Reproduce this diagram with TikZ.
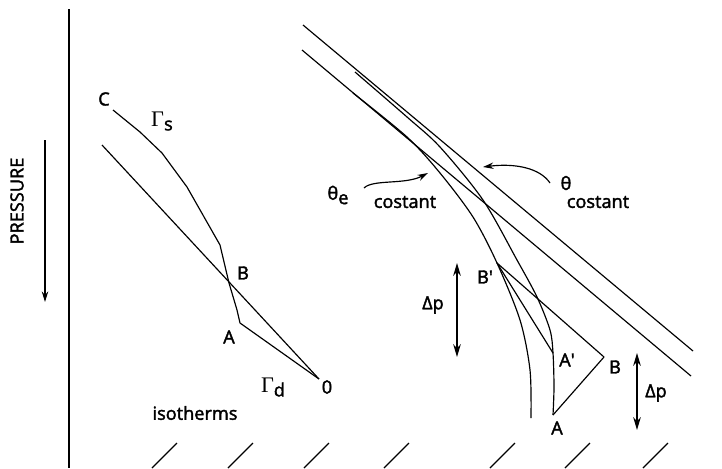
\documentclass[tikz,border=0pt]{standalone}
\usepackage{fontspec}
\setmainfont{Open Sans}[UprightFeatures={FakeBold=2}]
\newfontfamily\gamfont{Liberation Serif}
\usetikzlibrary{arrows.meta}

\begin{document}
\begin{tikzpicture}[x=0.03cm, y=-0.03cm, line width=1pt, line join=round,
  lbl/.style={font=\fontsize{15.5}{16}\selectfont, inner sep=0pt},
  arrow/.style={-{Stealth[length=9pt,width=5.5pt]}},
  dparrow/.style={{Stealth[length=11pt,width=6.5pt]}-{Stealth[length=11pt,width=6.5pt]}}]
\useasboundingbox (0,0) rectangle (722,468);
% axis and pressure direction
\draw (69,9) -- (69,468);
\coordinate (ptop) at (45,140); \coordinate (pbot) at (45,302);
\draw[arrow] (ptop) -- (pbot);
\node[lbl, rotate=90] (press) at (17,201) {PRESSURE};
% ground hatching
\foreach \x in {152,228,304,384,490,565,643} \draw (\x,468) -- ++(25,-25);
% left diagram: Gamma_s and Gamma_d
\coordinate (C) at (113,110); \coordinate (Al) at (240,323);
\coordinate (O) at (319,379); \coordinate (dtop) at (102,145);
\draw (C) -- (140,132) -- (162,153) -- (187,187) -- (220,245) -- (229,283) -- (237,310) -- (Al) -- (O);
\draw (dtop) -- (O);
\node[lbl] (lC) at (104,99) {C};
\node[lbl] (gs) at (162,121) {{\gamfont\fontsize{19}{19}\selectfont Γ}\raisebox{-0.45ex}{s}};
\node[lbl] (lBl) at (243,273) {B};
\node[lbl] (lAl) at (229,337) {A};
\node[lbl] (gd) at (273,387) {{\gamfont\fontsize{19}{19}\selectfont Γ}\raisebox{-0.45ex}{d}};
\node[lbl] (lO) at (327,387) {0};
\node[lbl] (iso) at (195,413) {isotherms};
% right diagram: dry and moist adiabats
\coordinate (t1) at (303,25); \coordinate (e1) at (693,351);
\coordinate (t2) at (302,50); \coordinate (e2) at (691,376);
\draw (t1) -- (e1); \draw (t2) -- (e2);
\coordinate (Bp) at (497,263); \coordinate (Ap) at (553,353);
\coordinate (B) at (604,357); \coordinate (A) at (553,415);
\draw plot[smooth] coordinates {(353,93) (407,137) (440,173) (473,217) (Bp) (520,320) (530,370) (531,418)};
\draw plot[smooth] coordinates {(355,72) (407,117) (440,147) (483,200) (517,260) (537,297) (550,330) (Ap) (554,387) (A)};
\draw (Bp) -- (Ap); \draw (Bp) -- (B) -- (A);
\node[lbl] (lBp) at (485,277) {B\textquotesingle};
\node[lbl] (lAp) at (567,360) {A\textquotesingle};
\node[lbl] (lB) at (615,367) {B};
\node[lbl] (lA) at (557,428) {A};
% labels with pointers
\node[lbl] (the) at (338,195) {θ\raisebox{-0.45ex}{e}};
\node[lbl] (c1) at (405,202) {costant};
\node[lbl] (th) at (566,183) {θ};
\node[lbl] (c2) at (598,202) {costant};
\coordinate (w0) at (364,188); \coordinate (w1) at (428,173);
\draw[arrow] (w0) .. controls (373,179) and (405,185) .. (w1);
\coordinate (v0) at (550,183); \coordinate (v1) at (483,167);
\draw[arrow] (v0) .. controls (540,168) and (515,163) .. (v1);
% pressure intervals
\coordinate (p1a) at (457,263); \coordinate (p1b) at (457,357);
\coordinate (p2a) at (637,353); \coordinate (p2b) at (637,430);
\draw[dparrow] (p1a) -- (p1b); \draw[dparrow] (p2a) -- (p2b);
\node[lbl] (dp1) at (433,305) {Δp};
\node[lbl] (dp2) at (656,393) {Δp};
\end{tikzpicture}
\end{document}
